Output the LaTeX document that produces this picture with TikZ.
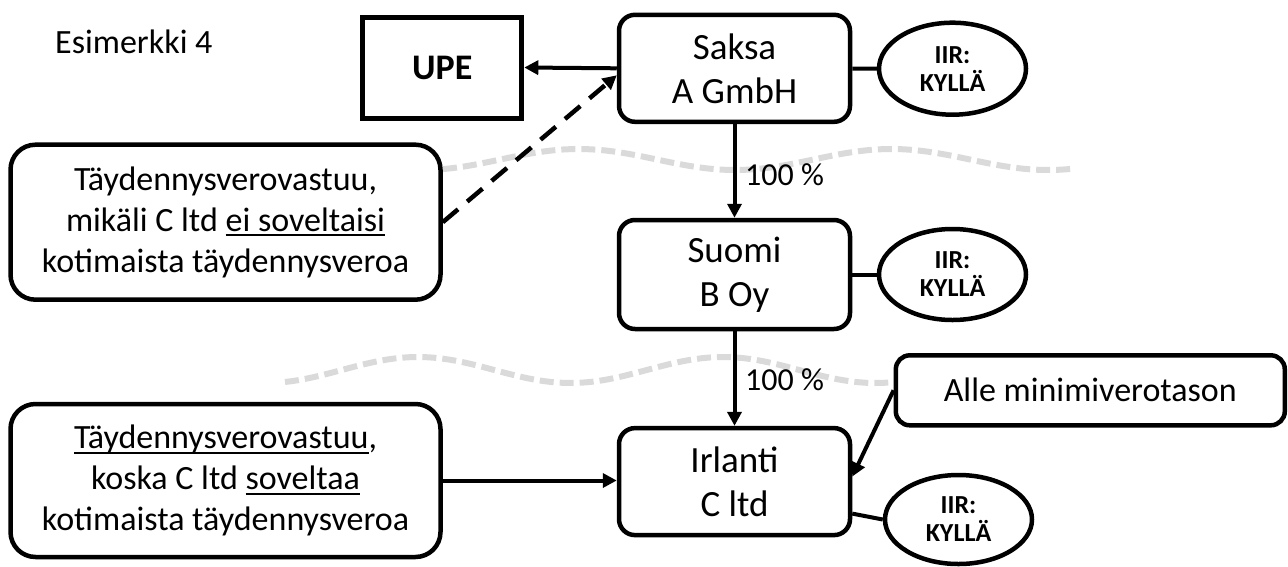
\documentclass[tikz,border=0pt]{standalone}
\usepackage{fontspec}
\setmainfont{Carlito}
\usetikzlibrary{arrows.meta,shapes.geometric}
\definecolor{wavegray}{RGB}{218,218,218}
\newcommand\myul[1]{\setbox0\hbox{#1}\rlap{\rule[-5pt]{\wd0}{1.8pt}}\box0}
\begin{document}
\begin{tikzpicture}[x=1pt,y=-1pt,
  ent/.style={draw, line width=4.5pt, rounded corners=16pt, fill=white, align=center, inner sep=0pt,
    minimum width=231pt, font=\fontsize{37}{44}\selectfont},
  upebox/.style={draw, line width=5pt, fill=white, inner sep=0pt, minimum width=159pt, minimum height=101pt,
    font=\fontsize{36}{43}\selectfont\bfseries},
  iir/.style={draw, ellipse, line width=4.5pt, fill=white, align=center, inner sep=0pt,
    minimum width=147pt, font=\fontsize{26}{28}\selectfont\bfseries},
  note/.style={draw, line width=4.5pt, rounded corners=25pt, fill=white, align=center, inner sep=0pt,
    minimum width=430pt, font=\fontsize{34}{41}\selectfont},
  altbox/.style={draw, line width=4.5pt, rounded corners=14pt, fill=white, inner sep=0pt,
    minimum width=389pt, minimum height=70pt, font=\fontsize{34}{40}\selectfont},
  pct/.style={inner sep=0pt, anchor=west, font=\fontsize{32}{38}\selectfont},
  conn/.style={line width=4pt},
  arr/.style={-{Triangle[length=14pt,width=14pt]}},
  wave/.style={draw=wavegray, line width=6pt, dash pattern=on 14pt off 6pt}
]
\useasboundingbox (0,0) rectangle (1288,566);

% dividing waves
\draw[wave] plot[domain=443:1072, samples=90] (\x, {159.5 - 10.5*cos(1.15016*(\x-578.6))});
\draw[wave] plot[domain=285:893, samples=90] (\x, {370 - 13*cos(1.18033*(\x-418))});

% title
\node[inner sep=0pt, anchor=base west, font=\fontsize{34}{40}\selectfont] (title) at (55,53.3) {Esimerkki 4};

% entities
\node[upebox] (upe) at (442.3,67.5) {UPE};
\node[ent, minimum height=107pt] (sak) at (734.5,68.3) {Saksa\\A GmbH};
\node[ent, minimum height=109pt] (suo) at (734.5,274.5) {Suomi\\B Oy};
\node[ent, minimum height=107pt] (irl) at (734.5,481.6) {Irlanti\\C ltd};

\node[iir, minimum height=92pt] (e1) at (952.5,68.7) {IIR:\\KYLLÄ};
\node[iir, minimum height=91pt] (e2) at (952.5,274.5) {IIR:\\KYLLÄ};
\node[iir, minimum height=89pt] (e3) at (958.5,519.5) {IIR:\\KYLLÄ};

\node[note, minimum height=155pt] (lb1) at (225.5,222.2)
  {Täydennysverovastuu,\\mikäli C ltd \myul{ei soveltaisi}\\kotimaista täydennysveroa};
\node[note, minimum height=153pt] (lb2) at (225.5,480.5)
  {\myul{Täydennysverovastuu},\\koska C ltd \myul{soveltaa}\\kotimaista täydennysveroa};

\node[altbox] (alle) at (1090.3,390.3) {Alle minimiverotason};

% percentages
\node[pct] (p1) at (745,175) {100 \%};
\node[pct] (p2) at (745,380) {100 \%};

% connectors
\draw[conn, arr] (sak.west) -- (upe.east);
\draw[conn, line width=4.5pt, dash pattern=on 20pt off 12pt, arr] (lb1.east) -- ([yshift=-7pt]sak.west);
\draw[conn, arr] (sak) -- (suo);
\draw[conn, arr] (suo) -- (irl);
\draw[conn] (sak) -- (e1);
\draw[conn] (suo) -- (e2);
\draw[conn] ([yshift=-32pt]irl.east) -- (e3.west);
\draw[conn, arr] (alle.west) -- ([yshift=5pt]irl.east);
\draw[conn, arr] (lb2.east) -- (lb2.east -| irl.west);
\end{tikzpicture}
\end{document}
